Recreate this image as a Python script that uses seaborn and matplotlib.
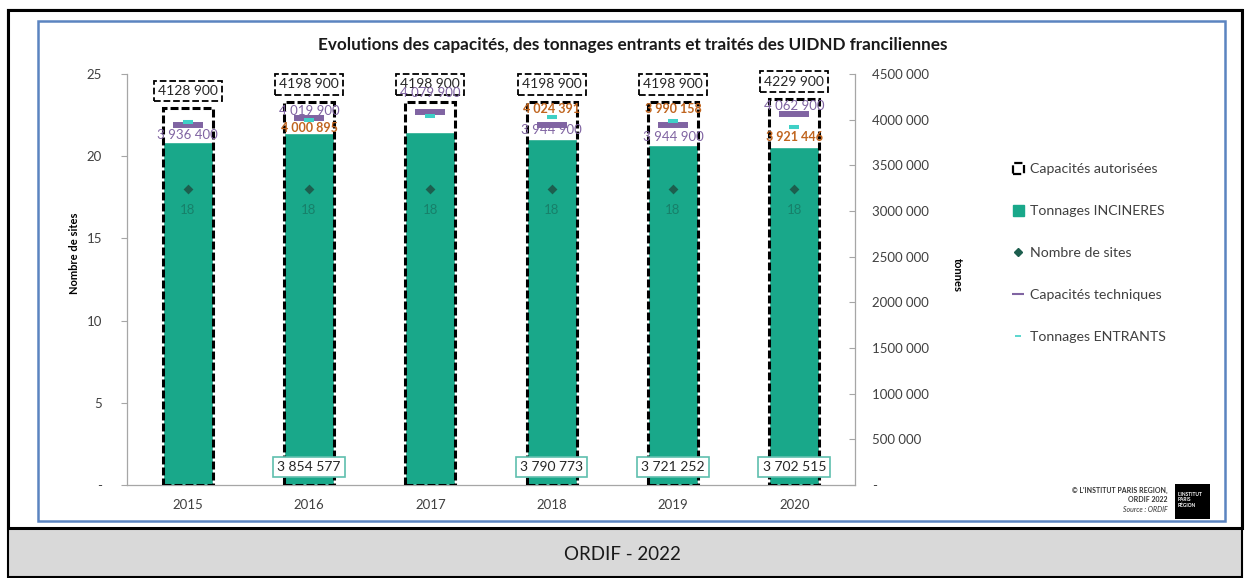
import pandas as pd
import seaborn as sns
import matplotlib.pyplot as plt
from matplotlib.patches import Patch, Rectangle
from matplotlib.lines import Line2D

# values
years = ["2015", "2016", "2017", "2018", "2019", "2020"]
cap_autorisees = [4128900, 4198900, 4198900, 4198900, 4198900, 4229900]
tonnages_incineres = [3752000, 3854577, 3865000, 3790773, 3721252, 3702515]
incineres_labelled = [False, True, False, True, True, True]
nombre_sites = [18, 18, 18, 18, 18, 18]
cap_techniques = [3936400, 4019900, 4079900, 3944900, 3944900, 4062900]
tonnages_entrants = [3975000, 4000895, 4035000, 4024391, 3990158, 3921446]
entrants_labelled = [False, True, False, True, True, True]

# label placement (points, positive = above the marker)
tech_label_dy = [-7, 5, 14, -4, -9, 6]
entrants_label_dy = [0, -6, 0, 6, 8, -7]

GREEN = "#19a88a"
PURPLE = "#8064a2"
CYAN = "#3fd0c6"
ORANGE = "#c0651f"
DARKGREEN = "#1d5e4e"
TEXT = "#404040"
AXIS = "#a6a6a6"

W, H = 1245, 578


def fmt_short(v):
    if v == 0:
        return "-"
    return f"{v // 1000} {v % 1000:03d}"


def fmt_full(v):
    return f"{v:,}".replace(",", " ")


def main():
    sns.set_style("white")
    plt.rcParams["font.family"] = ["Lato", "DejaVu Sans"]

    df = pd.DataFrame({
        "year": years,
        "autorisees": cap_autorisees,
        "incineres": tonnages_incineres,
        "sites": nombre_sites,
        "techniques": cap_techniques,
        "entrants": tonnages_entrants,
    })

    fig = plt.figure(figsize=(W / 100, H / 100), dpi=100)

    # frames
    fig.patches.append(Rectangle((8 / W, 1 / H), 1234 / W, 527 / H, transform=fig.transFigure,
                                 fc="#d9d9d9", ec="none", zorder=0))
    fig.patches.append(Rectangle((8 / W, 50 / H), 1234 / W, 518 / H, transform=fig.transFigure,
                                 fc="white", ec="black", lw=2.2, zorder=0.5))
    fig.patches.append(Rectangle((8 / W, 1 / H), 1234 / W, 567 / H, transform=fig.transFigure,
                                 fc="none", ec="black", lw=1.5, zorder=0.6))
    fig.patches.append(Rectangle((38 / W, 57 / H), 1187 / W, 500 / H, transform=fig.transFigure,
                                 fc="none", ec="#5b84c0", lw=1.8, zorder=0.7))
    fig.text(622 / W, 1 - 554 / H, "ORDIF - 2022", ha="center", va="center",
             fontsize=13.5, color="#1a1a1a")

    ax = fig.add_axes([127 / W, 1 - 485 / H, 728 / W, 411 / H])
    ax.patch.set_alpha(0)

    sns.barplot(data=df, x="year", y="incineres", color=GREEN, saturation=1,
                width=0.41, errorbar=None, ax=ax, zorder=2)
    sns.barplot(data=df, x="year", y="autorisees", color="black", fill=False,
                width=0.41, errorbar=None, linewidth=2.2, linestyle=(0, (2.6, 1.0)),
                ax=ax, zorder=3)
    sns.stripplot(data=df, x="year", y="techniques", marker="_", size=21,
                  linewidth=4.3, color=PURPLE, edgecolor=PURPLE, jitter=False,
                  ax=ax, zorder=4)
    sns.stripplot(data=df, x="year", y="entrants", marker="_", size=7,
                  linewidth=2.9, color=CYAN, edgecolor=CYAN, jitter=False,
                  ax=ax, zorder=5)

    ax.set_ylim(0, 4500000)
    ax.set_xlim(-0.5, len(years) - 0.5)
    ax.set_xlabel("")
    ax.set_ylabel("")

    ax_s = ax.twinx()
    sns.stripplot(data=df, x="year", y="sites", marker="D", size=5,
                  color=DARKGREEN, jitter=False, ax=ax_s, zorder=6)
    ax_s.set_ylim(0, 25)
    ax_s.set_xlim(-0.5, len(years) - 0.5)
    ax_s.set_xlabel("")
    ax_s.set_ylabel("")
    ax.set_zorder(2)
    ax_s.set_zorder(3)
    ax_s.patch.set_alpha(0)

    # axes / ticks
    ax.yaxis.tick_right()
    ax_s.yaxis.tick_left()
    for s in ax_s.spines.values():
        s.set_visible(False)
    ax.spines["top"].set_visible(False)
    for side in ["left", "right", "bottom"]:
        ax.spines[side].set_color(AXIS)
        ax.spines[side].set_linewidth(0.9)

    rticks = list(range(0, 4500001, 500000))
    ax.set_yticks(rticks)
    ax.set_yticklabels([fmt_short(v) for v in rticks])
    ax.tick_params(axis="y", direction="in", length=4, color=AXIS, pad=12,
                   labelsize=9.5, labelcolor=TEXT)

    lticks = [0, 5, 10, 15, 20, 25]
    ax_s.set_yticks(lticks)
    ax_s.set_yticklabels(["-" if v == 0 else str(v) for v in lticks])
    ax_s.tick_params(axis="y", direction="out", length=4, color=AXIS, pad=14,
                     labelsize=9.5, labelcolor=TEXT)

    ax.set_xticks(range(len(years)))
    ax.set_xticklabels(years)
    ax.set_xticks([i + 0.5 for i in range(len(years) - 1)], minor=True)
    ax.tick_params(axis="x", which="major", length=0, pad=10, labelsize=9.5,
                   labelcolor=TEXT)
    ax.tick_params(axis="x", which="minor", length=4, color=AXIS, direction="out")
    ax_s.tick_params(axis="x", length=0, labelbottom=False)

    # data labels
    for i, v in enumerate(cap_autorisees):
        ax.annotate(fmt_short(v), (i, v), xytext=(0, 8), textcoords="offset points",
                    ha="center", va="bottom", fontsize=10, color="#262626", zorder=7,
                    bbox=dict(boxstyle="square,pad=0.3", fc="white", ec="black",
                              ls="--", lw=1.3))
    for i, v in enumerate(tonnages_incineres):
        if incineres_labelled[i]:
            ax.text(i, 195000, fmt_full(v), ha="center", va="center", fontsize=10,
                    color="#262626", zorder=7,
                    bbox=dict(boxstyle="square,pad=0.3", fc="white", ec="#5fbfae", lw=1.2))
    for i, v in enumerate(cap_techniques):
        ax.annotate(fmt_full(v), (i, v), xytext=(0, tech_label_dy[i]),
                    textcoords="offset points", ha="center", va="center",
                    fontsize=9.5, color=PURPLE, zorder=8)
    for i, v in enumerate(tonnages_entrants):
        if entrants_labelled[i]:
            ax.annotate(fmt_full(v), (i, v), xytext=(0, entrants_label_dy[i]),
                        textcoords="offset points", ha="center", va="center",
                        fontsize=9, color=ORANGE, fontweight="bold", zorder=8)
    for i, v in enumerate(nombre_sites):
        ax_s.annotate(str(v), (i, v), xytext=(0, -15), textcoords="offset points",
                      ha="center", va="center", fontsize=9.5, color="#17806a")

    # axis titles
    fig.text(75 / W, 1 - 253 / H, "Nombre de sites", rotation=90, ha="center",
             va="center", fontsize=8, fontweight="bold", color="black")
    fig.text(957 / W, 1 - 275 / H, "tonnes", rotation=270, ha="center",
             va="center", fontsize=8, fontweight="bold", color="black")

    fig.text(633 / W, 1 - 45 / H,
             "Evolutions des capacités, des tonnages entrants et traités des UIDND franciliennes",
             ha="center", va="center", fontsize=12.3, fontweight="bold", color="#1a1a1a")

    handles = [
        Patch(facecolor="white", edgecolor="black", linestyle="--", linewidth=1.6),
        Patch(facecolor=GREEN, edgecolor=GREEN),
        Line2D([], [], marker="D", markersize=4, color=DARKGREEN, linestyle="none"),
        Line2D([], [], marker="_", markersize=8, markeredgewidth=1.5, color=PURPLE,
               linestyle="none"),
        Line2D([], [], marker="_", markersize=4, markeredgewidth=1.2, color=CYAN,
               linestyle="none"),
    ]
    labels = ["Capacités autorisées", "Tonnages INCINERES", "Nombre de sites",
              "Capacités techniques", "Tonnages ENTRANTS"]
    fig.legend(handles, labels, loc="upper left",
               bbox_to_anchor=(1000 / W, 1 - 150 / H), frameon=False,
               labelspacing=2.1, handlelength=0.8, handleheight=0.8,
               handletextpad=0.4, fontsize=10.2, labelcolor=TEXT)

    # credit / logo
    fig.text(1168 / W, 1 - 490 / H, "© L'INSTITUT PARIS REGION,", ha="right",
             va="center", fontsize=5, fontweight="bold", color="#333333")
    fig.text(1168 / W, 1 - 500 / H, "ORDIF 2022", ha="right", va="center",
             fontsize=5, fontweight="bold", color="#333333")
    fig.text(1168 / W, 1 - 510 / H, "Source : ORDIF", ha="right", va="center",
             fontsize=5, style="italic", color="#333333")
    fig.patches.append(Rectangle((1175 / W, 1 - 519 / H), 35 / W, 35 / H,
                                 transform=fig.transFigure, fc="black", ec="none"))
    fig.text(1178 / W, 1 - 500 / H, "L'INSTITUT\nPARIS\nRÉGION", ha="left",
             va="center", fontsize=3.5, fontweight="bold", color="white",
             linespacing=1.0)

    fig.savefig("out.png", dpi=100)


if __name__ == "__main__":
    main()
